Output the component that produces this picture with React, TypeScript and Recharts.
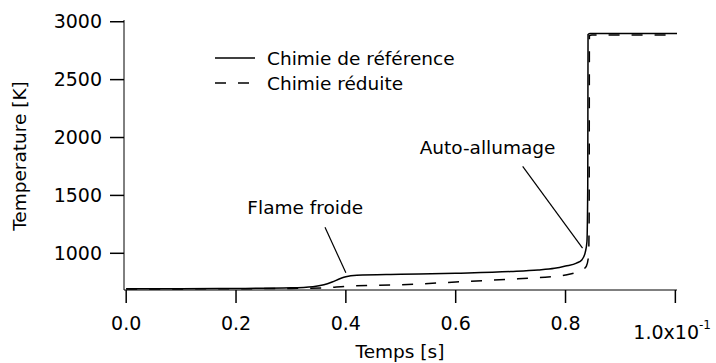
import {
  Legend,
  Line,
  LineChart,
  ReferenceDot,
  ReferenceLine,
  XAxis,
  YAxis,
} from "recharts";

// temps en unités de 1e-1 s, température en K
const tempsReference = [0, 0.1, 0.2, 0.3, 0.34, 0.36, 0.375, 0.39, 0.4, 0.42, 0.5, 0.6, 0.7, 0.75, 0.78, 0.8, 0.82, 0.83, 0.836, 0.839, 0.8405, 0.841, 0.845, 1.003];
const tempReference = [693, 694, 696, 702, 712, 728, 752, 782, 798, 810, 818, 828, 842, 855, 870, 890, 915, 945, 1010, 1100, 1600, 2890, 2898, 2898];

const tempsReduite = [0, 0.2, 0.3, 0.36, 0.4, 0.5, 0.6, 0.7, 0.75, 0.8, 0.82, 0.83, 0.838, 0.842, 0.843, 0.8435, 0.848, 1.003];
const tempReduite = [692, 694, 697, 702, 715, 728, 752, 776, 790, 812, 835, 855, 890, 980, 1300, 2880, 2886, 2886];

const ticksTemps = [0, 0.2, 0.4, 0.6, 0.8, 1.0];
const ticksTemp = [1000, 1500, 2000, 2500, 3000];

const serieReference = tempsReference.map((t, i) => ({ t, T: tempReference[i] }));
const serieReduite = tempsReduite.map((t, i) => ({ t, T: tempReduite[i] }));

const police = "DejaVu Sans, sans-serif";

function TickTemps({ x, y, payload }: any) {
  if (payload.value === 1) {
    return (
      <text x={x - 42} y={y + 9} dy="0.71em" fontFamily={police} fontSize={19} fill="#000">
        1.0x10
        <tspan dy={-10} fontSize={12}>-1</tspan>
      </text>
    );
  }
  return (
    <text x={x} y={y} dy="0.71em" textAnchor="middle" fontFamily={police} fontSize={19} fill="#000">
      {payload.value.toFixed(1)}
    </text>
  );
}

function LegendeChimie({ payload }: any) {
  return (
    <svg width={270} height={60}>
      {(payload ?? []).map((e: any, i: number) => (
        <g key={e.value}>
          <line
            x1={10}
            x2={50}
            y1={13 + i * 25}
            y2={13 + i * 25}
            stroke="#000"
            strokeWidth={1.3}
            strokeDasharray={e.payload?.strokeDasharray}
          />
          <text x={62} y={20 + i * 25} fontFamily={police} fontSize={18.5} fill="#000">
            {e.value}
          </text>
        </g>
      ))}
    </svg>
  );
}

const titreX = () => (
  <text x={400} y={358} textAnchor="middle" fontFamily={police} fontSize={18.5} fill="#000">
    Temps [s]
  </text>
);

const titreY = () => (
  <text x={26} y={156} transform="rotate(-90, 26, 156)" textAnchor="middle" fontFamily={police} fontSize={18.5} fill="#000">
    Temperature [K]
  </text>
);

export default function App() {
  return (
    <div style={{ position: "absolute", left: 0, top: 0, width: 716, height: 363, background: "#fff" }}>
      <LineChart width={716} height={363} margin={{ top: 20, right: 39, left: 0, bottom: 0 }}>
        <XAxis
          dataKey="t"
          type="number"
          domain={[-0.004, 1.003]}
          ticks={ticksTemps}
          allowDataOverflow
          height={73}
          tickSize={13}
          tickMargin={14}
          tick={<TickTemps />}
          stroke="#000"
          tickLine={{ stroke: "#000", strokeWidth: 1.5 }}
          label={titreX}
        />
        <XAxis xAxisId="haut" orientation="top" type="number" domain={[-0.004, 1.003]} height={0} tick={false} tickLine={false} stroke="#000" />
        <YAxis
          type="number"
          domain={[683, 3015]}
          ticks={ticksTemp}
          allowDataOverflow
          width={124}
          tickSize={14}
          tickMargin={8}
          stroke="#000"
          tickLine={{ stroke: "#000", strokeWidth: 1.5 }}
          tick={{ fill: "#000", fontFamily: police, fontSize: 19 }}
          label={titreY}
        />
        <YAxis yAxisId="droite" orientation="right" domain={[683, 3015]} width={0} tick={false} tickLine={false} stroke="#555" strokeWidth={2} />
        <Legend
          layout="vertical"
          align="center"
          verticalAlign="middle"
          wrapperStyle={{ left: 205, top: 45, width: 270, height: 60 }}
          content={<LegendeChimie />}
        />
        <Line
          data={serieReference}
          dataKey="T"
          name="Chimie de référence"
          type="monotone"
          stroke="#000"
          strokeWidth={1.5}
          dot={false}
          isAnimationActive={false}
        />
        <Line
          data={serieReduite}
          dataKey="T"
          name="Chimie réduite"
          type="monotone"
          stroke="#000"
          strokeWidth={1.5}
          strokeDasharray="11 12"
          dot={false}
          isAnimationActive={false}
        />
        <ReferenceLine segment={[{ x: 0.362, y: 1226 }, { x: 0.4, y: 831 }]} stroke="#000" strokeWidth={1.2} />
        <ReferenceLine segment={[{ x: 0.722, y: 1750 }, { x: 0.831, y: 1045 }]} stroke="#000" strokeWidth={1.2} />
        <ReferenceDot
          x={0.326}
          y={1398}
          r={0}
          label={{ value: "Flame froide", position: "center", fill: "#000", fontFamily: police, fontSize: 18.5 }}
        />
        <ReferenceDot
          x={0.658}
          y={1913}
          r={0}
          label={{ value: "Auto-allumage", position: "center", fill: "#000", fontFamily: police, fontSize: 18.5 }}
        />
      </LineChart>
    </div>
  );
}
